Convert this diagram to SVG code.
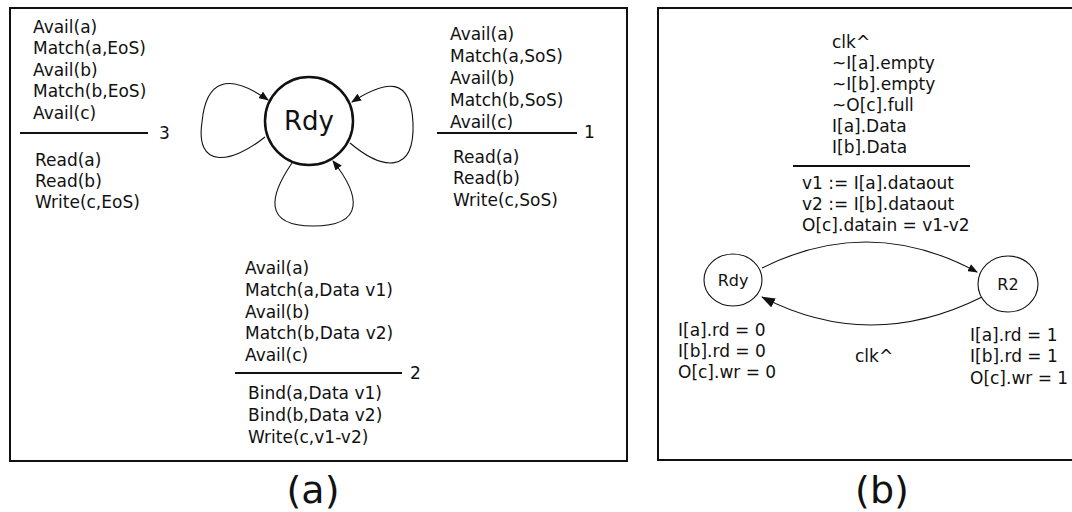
<svg xmlns="http://www.w3.org/2000/svg" width="1072" height="512" viewBox="0 0 1072 512">
<style>
text{font-family:"DejaVu Sans","Liberation Sans",sans-serif;font-size:17px;fill:#111}
.panel{fill:#fff;stroke:#111;stroke-width:2}
.div{stroke:#111;stroke-width:2.2}
.edge{fill:none;stroke:#111;stroke-width:1.1}
.cap{font-size:38px;text-anchor:middle}
</style>
<defs>
<marker id="ah" markerUnits="userSpaceOnUse" markerWidth="10" markerHeight="8" refX="9" refY="4" orient="auto"><path d="M0,0 L10,4 L0,8 Z" fill="#111"/></marker>
<marker id="ahb" markerUnits="userSpaceOnUse" markerWidth="14" markerHeight="10" refX="13" refY="5" orient="auto"><path d="M0,0 L14,5 L0,10 Z" fill="#111"/></marker>
</defs>
<rect width="1072" height="512" fill="#fff"/>
<rect class="panel" x="10" y="8" width="617" height="453"/>
<rect class="panel" x="658" y="8" width="420" height="452"/>

<g id="connectors">
<path class="edge" d="M265,137 C230,165 195,168 202,122 C206,80 228,72 268,100" marker-end="url(#ah)"/>
<path class="edge" d="M350,143 C382,170 415,175 413,123 C411,76 386,80 352,102" marker-end="url(#ah)"/>
<path class="edge" d="M292,163 C270,195 262,226 313,226 C366,226 360,195 333,161" marker-end="url(#ah)"/>
<path class="edge" d="M762,268 Q870,214 977,272" marker-end="url(#ah)"/>
<path class="edge" d="M982,297 Q870,353 762,297" marker-end="url(#ahb)"/>
</g>

<g id="node-rdy-a">
<circle cx="309" cy="121" r="44" fill="#fff" stroke="#111" stroke-width="2.5"/>
<text x="309" y="130" text-anchor="middle" style="font-size:26px">Rdy</text>
</g>

<g id="rule-3">
<text x="33" y="32.5">Avail(a)</text>
<text x="33" y="54">Match(a,EoS)</text>
<text x="33" y="75.5">Avail(b)</text>
<text x="33" y="97">Match(b,EoS)</text>
<text x="33" y="118.5">Avail(c)</text>
<line class="div" x1="20" y1="133" x2="148" y2="133"/>
<text x="159" y="139">3</text>
<text x="35" y="165.5">Read(a)</text>
<text x="35" y="186.5">Read(b)</text>
<text x="35" y="207.5">Write(c,EoS)</text>
</g>

<g id="rule-1">
<text x="450" y="39.5">Avail(a)</text>
<text x="450" y="61.5">Match(a,SoS)</text>
<text x="450" y="83.5">Avail(b)</text>
<text x="450" y="105.5">Match(b,SoS)</text>
<text x="450" y="127.5">Avail(c)</text>
<line class="div" x1="437" y1="133" x2="577" y2="133"/>
<text x="584" y="138">1</text>
<text x="453" y="162.5">Read(a)</text>
<text x="453" y="184">Read(b)</text>
<text x="453" y="205.5">Write(c,SoS)</text>
</g>

<g id="rule-2">
<text x="245" y="273.5">Avail(a)</text>
<text x="245" y="295.5">Match(a,Data v1)</text>
<text x="245" y="317.5">Avail(b)</text>
<text x="245" y="338.5">Match(b,Data v2)</text>
<text x="245" y="360.5">Avail(c)</text>
<line class="div" x1="235" y1="373" x2="402" y2="373"/>
<text x="410" y="379">2</text>
<text x="248" y="398.5">Bind(a,Data v1)</text>
<text x="248" y="420.5">Bind(b,Data v2)</text>
<text x="248" y="442.5">Write(c,v1-v2)</text>
</g>

<g id="transition-b">
<text x="832" y="47.5">clk^</text>
<text x="832" y="68.5">~I[a].empty</text>
<text x="832" y="89.5">~I[b].empty</text>
<text x="832" y="110.5">~O[c].full</text>
<text x="832" y="131.5">I[a].Data</text>
<text x="832" y="152.5">I[b].Data</text>
<line class="div" x1="793" y1="166" x2="970" y2="166"/>
<text x="802" y="188.5">v1 := I[a].dataout</text>
<text x="802" y="209.5">v2 := I[b].dataout</text>
<text x="802" y="230.5">O[c].datain = v1-v2</text>
</g>

<g id="node-rdy-b">
<ellipse cx="733" cy="280" rx="29" ry="26" fill="#fff" stroke="#111" stroke-width="1.1"/>
<text x="733" y="286" text-anchor="middle" style="font-size:16px">Rdy</text>
<text x="678" y="335.5">I[a].rd = 0</text>
<text x="678" y="356.5">I[b].rd = 0</text>
<text x="678" y="377.5">O[c].wr = 0</text>
</g>

<g id="node-r2">
<ellipse cx="1008" cy="284" rx="30" ry="28" fill="#fff" stroke="#111" stroke-width="1.1"/>
<text x="1008" y="290" text-anchor="middle" style="font-size:16px">R2</text>
<text x="970" y="340.5">I[a].rd = 1</text>
<text x="970" y="362">I[b].rd = 1</text>
<text x="970" y="383.5">O[c].wr = 1</text>
</g>

<text x="855" y="361.5">clk^</text>

<text class="cap" x="313" y="503">(a)</text>
<text class="cap" x="882" y="503">(b)</text>
</svg>
